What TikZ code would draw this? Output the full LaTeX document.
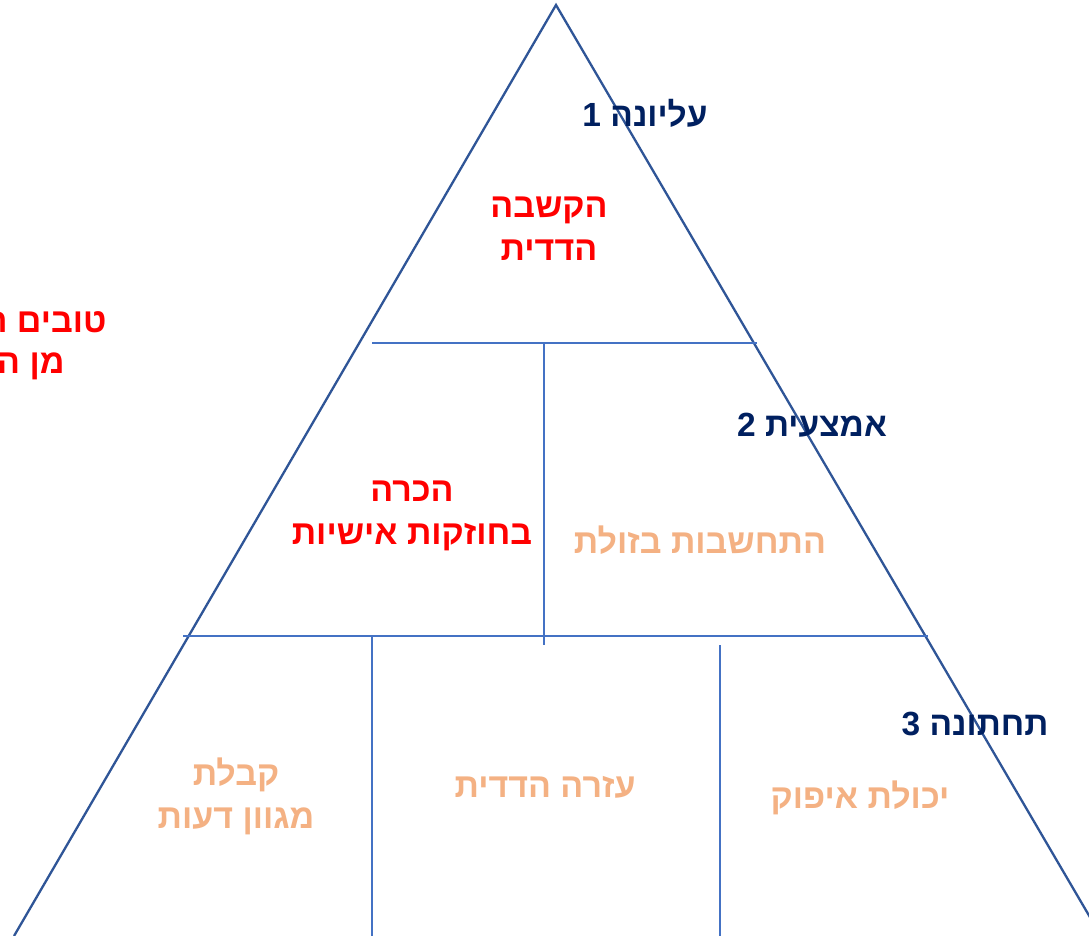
\documentclass[tikz,border=0pt]{standalone}
\usepackage{fontspec}
\usepackage{tikz}
\newfontfamily\hebfont[Script=Hebrew]{Liberation Sans}
\TeXXeTstate=1
\newcommand{\heb}[1]{\beginR #1\endR}
\definecolor{edgeblue}{HTML}{2F5597}
\definecolor{gridblue}{HTML}{4472C4}
\definecolor{levelnavy}{HTML}{002060}
\definecolor{softorange}{HTML}{F4B183}
\definecolor{hebred}{HTML}{FF0000}
\tikzset{
    level/.style={text=levelnavy, font=\hebfont\bfseries\fontsize{33.5}{38}\selectfont},
    keyval/.style={text=hebred, align=center, font=\hebfont\bfseries\fontsize{34}{43}\selectfont},
    softval/.style={text=softorange, align=center, font=\hebfont\bfseries\fontsize{34}{43}\selectfont}
}
\begin{document}
\begin{tikzpicture}[x=1pt, y=-1pt]
        \clip (0,0) rectangle (1089,936);
        \fill [white] (0,0) rectangle (1089,936);
        \begin{scope}[line width=2.3pt, color=edgeblue]
            \draw (14,936) -- (556,5) -- (1101,936);
        \end{scope}
        \begin{scope}[line width=1.2pt, color=gridblue]
            \draw (372,343) -- (757,343);
            \draw (183,636) -- (928,636);
            \draw (544,343) -- (544,645);
            \draw (372,636) -- (372,936);
            \draw (720,645) -- (720,936);
        \end{scope}

        \node [level] (top) at (645,113) {\heb{עליונה 1}};
        \node [level] (mid) at (812,425) {\heb{אמצעית 2}};
        \node [level] (low) at (975,724) {\heb{תחתונה 3}};

        \node [keyval] (listen) at (549,229) {\heb{הקשבה}\\\heb{הדדית}};
        \node [keyval] (know) at (412,516) {\heb{הכרה}\\\heb{בחוזקות אישיות}};
        \node [keyval, anchor=east] (good1) at (110,322) {\heb{טובים ה}};
        \node [keyval, anchor=east] (good2) at (68,366) {\heb{מן ה}};

        \node [softval] (respect) at (700,540) {\heb{התחשבות בזולת}};
        \node [softval] (accept) at (236,796) {\heb{קבלת}\\\heb{מגוון דעות}};
        \node [softval] (help) at (545,787) {\heb{עזרה הדדית}};
        \node [softval] (calm) at (860,798) {\heb{יכולת איפוק}};
\end{tikzpicture}
\end{document}
